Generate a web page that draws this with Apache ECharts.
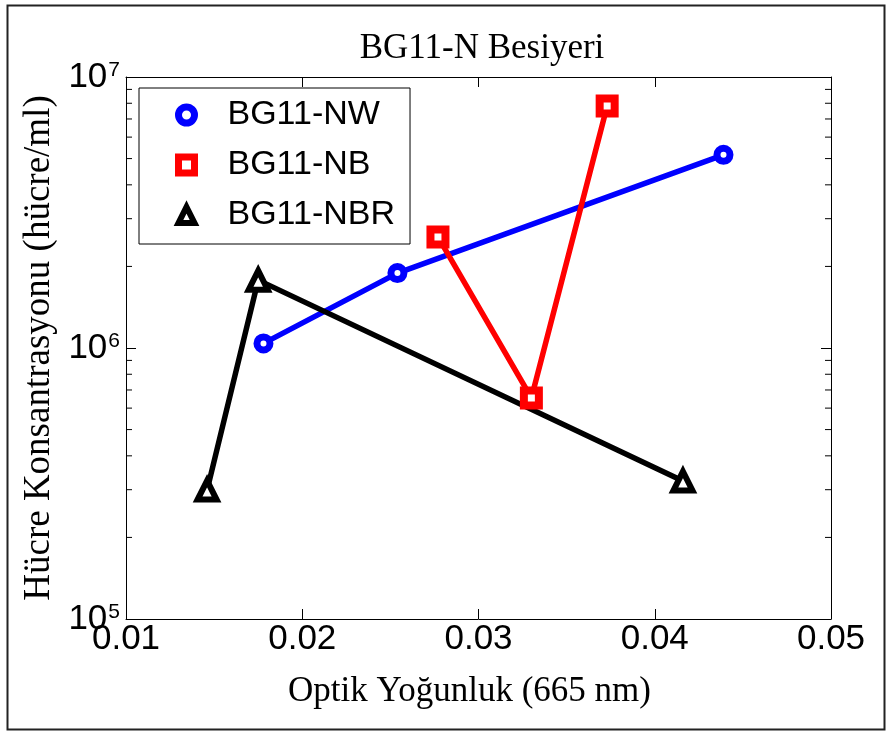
<!DOCTYPE html>
<html>
<head>
<meta charset="utf-8">
<script src="https://cdn.jsdelivr.net/npm/echarts@6/dist/echarts.min.js"></script>
<style>
html,body{margin:0;padding:0;background:#fff;}
#chart{width:887px;height:731px;}
</style>
</head>
<body>
<div id="chart"></div>
<script>
// ---- data ----
const seriesNames = ['BG11-NW', 'BG11-NB', 'BG11-NBR'];
const nwX = [0.0178, 0.0254, 0.0439];
const nwY = [1.04e6, 1.89e6, 5.16e6];
const nbX = [0.0277, 0.0330, 0.0373];
const nbY = [2.57e6, 6.54e5, 7.82e6];
const nbrX = [0.0146, 0.0175, 0.0416];
const nbrY = [2.99e5, 1.78e6, 3.23e5];
const xTicks = [0.01, 0.02, 0.03, 0.04, 0.05];
const yMinorTicks = [2e5,3e5,4e5,5e5,6e5,7e5,8e5,9e5,2e6,3e6,4e6,5e6,6e6,7e6,8e6,9e6];

const colors = ['#0000ff', '#ff0000', '#000000'];

function pairs(xs, ys){ return xs.map((x,i)=>[x, ys[i]]); }

const sansFont = "'Liberation Sans', Arial, sans-serif";
const serifFont = "'Liberation Serif', 'Times New Roman', serif";

const chart = echarts.init(document.getElementById('chart'), null, {renderer:'canvas'});

const lineSeries = [
  {name: seriesNames[0], data: pairs(nwX, nwY), symbol: 'circle', symbolSize: 13, borderW: 7},
  {name: seriesNames[1], data: pairs(nbX, nbY), symbol: 'rect', symbolSize: 15, borderW: 8},
  {name: seriesNames[2], data: pairs(nbrX, nbrY), symbol: 'triangle', symbolSize: 19, borderW: 6}
].map((s, i) => ({
  type: 'line',
  name: s.name,
  data: s.data,
  symbol: s.symbol,
  symbolSize: s.symbolSize,
  showAllSymbol: true,
  z: 3,
  lineStyle: {color: colors[i], width: 5.5},
  itemStyle: {color: '#ffffff', borderColor: colors[i], borderWidth: s.borderW},
  emphasis: {disabled: true},
  animation: false
}));

const minorTickSeries = {
  type: 'custom',
  name: 'minorTicks',
  silent: true,
  animation: false,
  z: 4,
  data: yMinorTicks.map(v => [0.01, v]),
  renderItem: function(params, api){
    const cs = params.coordSys;
    const p = api.coord([0.01, api.value(1)]);
    const y = p[1];
    return {
      type: 'group',
      children: [
        {type:'line', shape:{x1: cs.x, y1: y, x2: cs.x + 6, y2: y}, style:{stroke:'#000', lineWidth:1}},
        {type:'line', shape:{x1: cs.x + cs.width, y1: y, x2: cs.x + cs.width - 6, y2: y}, style:{stroke:'#000', lineWidth:1}}
      ]
    };
  }
};

const option = {
  backgroundColor: '#ffffff',
  animation: false,
  title: {
    text: 'BG11-N Besiyeri',
    left: 477,
    textAlign: 'center',
    top: 26,
    textStyle: {fontFamily: serifFont, fontWeight: 'normal', fontSize: 35, color: '#000'}
  },
  grid: {left: 126, right: 56, top: 77, bottom: 112, containLabel: false},
  legend: {
    left: 139, top: 88,
    orient: 'vertical',
    padding: [10, 15, 12, 36],
    itemGap: 16,
    itemWidth: 16, itemHeight: 16,
    backgroundColor: '#ffffff',
    borderColor: '#000000', borderWidth: 1,
    selectedMode: false,
    textStyle: {fontFamily: sansFont, fontSize: 34, color: '#000', lineHeight: 30, padding: [0,0,0,28]},
    data: [
      {name: seriesNames[0], icon: 'circle', itemStyle: {color:'#fff', borderColor: colors[0], borderWidth: 7}},
      {name: seriesNames[1], icon: 'rect', itemStyle: {color:'#fff', borderColor: colors[1], borderWidth: 7}},
      {name: seriesNames[2], icon: 'triangle', itemStyle: {color:'#fff', borderColor: colors[2], borderWidth: 6}}
    ]
  },
  xAxis: [{
    type: 'value',
    min: 0.01, max: 0.05, interval: 0.01,
    position: 'bottom',
    name: 'Optik Yoğunluk (665 nm)',
    nameLocation: 'middle',
    nameGap: 55,
    nameTextStyle: {fontFamily: serifFont, fontSize: 35, color: '#000', padding: [0, 18, 0, 0]},
    axisLine: {show: true, onZero: false, lineStyle: {color: '#000', width: 1}},
    axisTick: {show: true, inside: true, length: 10, lineStyle: {color: '#000'}},
    axisLabel: {fontFamily: sansFont, fontSize: 35, color: '#000', margin: 3,
      formatter: v => xTicks.includes(+v.toFixed(2)) ? v.toFixed(2) : ''},
    splitLine: {show: false}
  }, {
    type: 'value',
    min: 0.01, max: 0.05, interval: 0.01,
    position: 'top',
    axisLine: {show: true, onZero: false, lineStyle: {color: '#000', width: 1}},
    axisTick: {show: true, inside: true, length: 10, lineStyle: {color: '#000'}},
    axisLabel: {show: false},
    splitLine: {show: false}
  }],
  yAxis: [{
    type: 'log',
    logBase: 10,
    min: 1e5, max: 1e7,
    position: 'left',
    name: 'Hücre Konsantrasyonu (hücre/ml)',
    nameLocation: 'middle',
    nameGap: 64,
    nameTextStyle: {fontFamily: serifFont, fontSize: 37, color: '#000'},
    axisLine: {show: true, onZero: false, lineStyle: {color: '#000', width: 1}},
    axisTick: {show: true, inside: true, length: 10, lineStyle: {color: '#000'}},
    axisLabel: {
      margin: 6,
      formatter: v => '{a|10}{b|' + Math.round(Math.log10(v)) + '}',
      rich: {
        a: {fontFamily: sansFont, fontSize: 35, color: '#000'},
        b: {fontFamily: sansFont, fontSize: 21, color: '#000', verticalAlign: 'top', padding: [0,0,14,1]}
      }
    },
    splitLine: {show: false}
  }, {
    type: 'log',
    logBase: 10,
    min: 1e5, max: 1e7,
    position: 'right',
    axisLine: {show: true, onZero: false, lineStyle: {color: '#000', width: 1}},
    axisTick: {show: true, inside: true, length: 10, lineStyle: {color: '#000'}},
    axisLabel: {show: false},
    splitLine: {show: false}
  }],
  graphic: [{
    type: 'rect',
    left: 5, top: 3,
    shape: {width: 877, height: 724},
    style: {fill: 'none', stroke: '#222', lineWidth: 2},
    silent: true, z: 100
  }],
  series: lineSeries.concat([minorTickSeries])
};

chart.setOption(option);
</script>
</body>
</html>
